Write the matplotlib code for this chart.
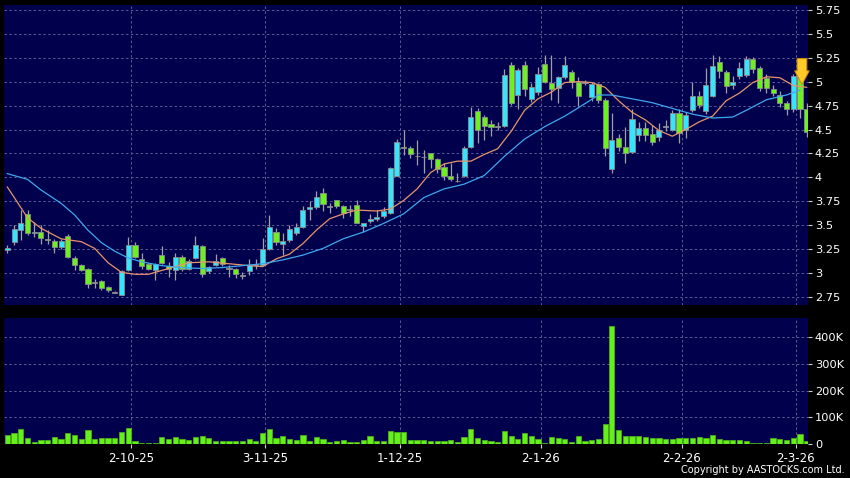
import numpy as np
import matplotlib
matplotlib.use('Agg')
import matplotlib.pyplot as plt

# daily OHLC, oldest first
opens = [3.24, 3.33, 3.45, 3.62, 3.42, 3.43, 3.36, 3.34, 3.27, 3.39,
         3.16, 3.09, 3.05, 2.90, 2.92, 2.86, 2.80, 2.77, 3.03, 3.30,
         3.15, 3.10, 3.03, 3.19, 3.08, 3.03, 3.17, 3.05, 3.16, 3.28,
         3.02, 3.09, 3.16, 3.05, 3.04, 2.97, 3.02, 3.09, 3.09, 3.25,
         3.43, 3.31, 3.35, 3.42, 3.48, 3.67, 3.69, 3.84, 3.69, 3.76,
         3.70, 3.66, 3.71, 3.49, 3.55, 3.57, 3.60, 3.63, 4.02, 4.32,
         4.31, 4.22, 4.21, 4.25, 4.19, 4.11, 4.01, 3.96, 4.01, 4.32,
         4.69, 4.63, 4.56, 4.53, 4.54, 5.17, 4.86, 5.17, 4.82, 4.89,
         5.18, 4.98, 4.93, 5.05, 5.10, 5.00, 4.99, 4.84, 4.97, 4.81,
         4.09, 4.41, 4.32, 4.27, 4.44, 4.52, 4.45, 4.42, 4.53, 4.50,
         4.67, 4.50, 4.70, 4.85, 4.69, 4.85, 5.20, 5.10, 4.96, 5.06,
         5.07, 5.24, 5.14, 5.04, 4.92, 4.86, 4.78, 4.71, 5.06, 4.71]
highs = [3.30, 3.50, 3.66, 3.66, 3.54, 3.50, 3.45, 3.36, 3.36, 3.41,
         3.18, 3.10, 3.06, 2.94, 2.93, 2.87, 2.82, 3.03, 3.38, 3.33,
         3.21, 3.11, 3.11, 3.28, 3.12, 3.21, 3.19, 3.15, 3.39, 3.30,
         3.08, 3.20, 3.17, 3.09, 3.06, 3.01, 3.15, 3.15, 3.37, 3.61,
         3.47, 3.42, 3.50, 3.53, 3.70, 3.75, 3.86, 3.89, 3.73, 3.77,
         3.71, 3.71, 3.76, 3.53, 3.62, 3.66, 3.69, 4.11, 4.40, 4.50,
         4.33, 4.39, 4.29, 4.26, 4.20, 4.15, 4.15, 4.05, 4.33, 4.73,
         4.72, 4.65, 4.60, 4.58, 5.13, 5.20, 5.14, 5.21, 4.98, 5.15,
         5.28, 5.28, 5.06, 5.27, 5.12, 5.05, 5.02, 5.00, 4.99, 4.83,
         4.67, 4.45, 4.53, 4.71, 4.58, 4.58, 4.55, 4.57, 4.60, 4.70,
         4.71, 4.68, 5.00, 4.90, 5.14, 5.28, 5.27, 5.12, 5.06, 5.20,
         5.27, 5.26, 5.16, 5.08, 4.96, 4.90, 4.80, 5.08, 5.08, 4.78]
lows = [3.21, 3.30, 3.35, 3.40, 3.38, 3.31, 3.31, 3.21, 3.25, 3.16,
        3.03, 3.02, 2.85, 2.85, 2.83, 2.81, 2.79, 2.77, 3.02, 3.16,
        3.05, 3.03, 2.93, 3.10, 2.96, 2.93, 3.02, 3.03, 3.15, 2.96,
        3.00, 3.08, 3.08, 2.96, 2.95, 2.94, 2.98, 3.05, 3.08, 3.24,
        3.30, 3.19, 3.33, 3.40, 3.47, 3.56, 3.67, 3.65, 3.63, 3.68,
        3.58, 3.60, 3.52, 3.43, 3.53, 3.55, 3.58, 3.62, 4.01, 4.23,
        4.20, 4.13, 4.05, 4.10, 4.05, 3.97, 3.96, 3.95, 4.00, 4.31,
        4.36, 4.39, 4.43, 4.49, 4.53, 4.76, 4.71, 4.85, 4.79, 4.86,
        4.98, 4.81, 4.78, 5.03, 4.93, 4.75, 4.96, 4.80, 4.78, 4.22,
        4.05, 4.28, 4.15, 4.25, 4.38, 4.38, 4.34, 4.38, 4.48, 4.48,
        4.36, 4.41, 4.68, 4.72, 4.66, 4.84, 5.04, 4.88, 4.92, 5.03,
        5.05, 5.09, 4.90, 4.88, 4.85, 4.74, 4.65, 4.68, 4.62, 4.42]
closes = [3.26, 3.46, 3.53, 3.42, 3.43, 3.37, 3.35, 3.27, 3.34, 3.17,
          3.09, 3.03, 2.89, 2.90, 2.85, 2.83, 2.80, 3.02, 3.30, 3.17,
          3.08, 3.04, 3.10, 3.11, 3.05, 3.17, 3.04, 3.13, 3.30, 2.99,
          3.07, 3.13, 3.10, 3.05, 2.99, 2.97, 3.09, 3.09, 3.25, 3.48,
          3.33, 3.34, 3.46, 3.48, 3.66, 3.69, 3.80, 3.72, 3.69, 3.70,
          3.63, 3.66, 3.53, 3.52, 3.57, 3.59, 3.65, 4.10, 4.37, 4.31,
          4.24, 4.22, 4.21, 4.19, 4.09, 4.02, 3.98, 3.96, 4.31, 4.63,
          4.50, 4.54, 4.53, 4.53, 5.07, 4.78, 5.12, 4.92, 4.94, 5.08,
          5.00, 4.92, 5.05, 5.17, 5.00, 4.85, 4.99, 4.97, 4.81, 4.31,
          4.39, 4.32, 4.26, 4.61, 4.52, 4.44, 4.37, 4.50, 4.54, 4.67,
          4.46, 4.65, 4.85, 4.76, 4.96, 5.16, 5.11, 4.95, 5.00, 5.14,
          5.24, 5.13, 4.93, 4.93, 4.88, 4.78, 4.71, 5.06, 4.71, 4.47]
volumes = [35, 42, 57, 21, 9, 14, 16, 26, 19, 41,
           35, 20, 52, 20, 24, 24, 24, 45, 61, 11,
           4, 4, 4, 26, 20, 27, 20, 16, 27, 31,
           24, 11, 11, 11, 11, 11, 19, 11, 40, 57,
           24, 30, 20, 16, 34, 12, 26, 20, 9, 12,
           16, 9, 9, 15, 30, 12, 11, 49, 46, 46,
           15, 16, 16, 10, 12, 11, 15, 7, 26, 57,
           24, 15, 10, 9, 49, 31, 20, 40, 29, 19,
           2, 27, 24, 20, 9, 30, 10, 15, 19, 74,
           442, 52, 31, 31, 31, 25, 21, 24, 19, 17,
           24, 22, 21, 27, 24, 35, 17, 16, 14, 14,
           10, 2, 4, 4, 24, 19, 16, 21, 36, 10]  # thousands

# moving averages (candle index, price)
ma_short_idx = [0, 3, 5, 8, 11, 13, 15, 17, 19, 21, 23, 25, 27, 30, 33, 36, 38, 40,
                42, 44, 46, 48, 50, 52, 55, 57, 59, 61, 63, 65, 67, 69, 71, 73, 75,
                77, 79, 81, 83, 85, 87, 89, 91, 93, 95, 97, 99, 101, 103, 105, 107,
                109, 111, 113, 115, 117, 119]
ma_short = [3.90, 3.58, 3.47, 3.36, 3.33, 3.26, 3.11, 3.01, 2.99, 2.99, 3.03, 3.07,
            3.11, 3.12, 3.10, 3.08, 3.07, 3.15, 3.20, 3.31, 3.45, 3.57, 3.62, 3.66,
            3.65, 3.67, 3.76, 3.88, 4.05, 4.14, 4.17, 4.17, 4.24, 4.30, 4.48, 4.70,
            4.82, 4.89, 4.99, 5.00, 4.99, 4.94, 4.80, 4.68, 4.60, 4.49, 4.43, 4.50,
            4.58, 4.64, 4.80, 4.88, 4.99, 5.05, 5.04, 4.96, 4.94]
ma_long_idx = [0, 3, 5, 8, 10, 12, 14, 16, 18, 20, 23, 26, 29, 32, 35, 38, 41, 44,
               47, 50, 53, 56, 59, 62, 65, 68, 71, 74, 77, 80, 83, 86, 88, 90, 93,
               96, 99, 102, 105, 108, 110, 113, 116, 118]
ma_long = [4.04, 3.98, 3.87, 3.73, 3.61, 3.45, 3.32, 3.23, 3.16, 3.12, 3.08, 3.06,
           3.05, 3.06, 3.08, 3.10, 3.14, 3.19, 3.26, 3.36, 3.43, 3.52, 3.62, 3.79,
           3.88, 3.93, 4.02, 4.22, 4.40, 4.53, 4.64, 4.77, 4.86, 4.86, 4.82, 4.78,
           4.72, 4.66, 4.62, 4.63, 4.70, 4.81, 4.86, 4.91]

tick_idx = [18, 38, 58, 79, 100, 117]
tick_labels = ['2-10-25', '3-11-25', '1-12-25', '2-1-26', '2-2-26', '2-3-26']

price_ticks = [2.75, 3, 3.25, 3.5, 3.75, 4, 4.25, 4.5, 4.75, 5, 5.25, 5.5, 5.75]
vol_ticks = [0, 100, 200, 300, 400]

BG = '#00004c'
GRID = '#5c5c94'
UP = '#33e6ff'
DOWN = '#6cf01e'
FLAT = '#a8a8a8'

o = np.array(opens)
c = np.array(closes)
h = np.array(highs)
l = np.array(lows)
x = np.arange(len(o))

fig = plt.figure(figsize=(8.5, 4.78), dpi=100, facecolor='black')
ax = fig.add_axes([0.0047, 0.362, 0.9459, 0.6278])
axv = fig.add_axes([0.0047, 0.0711, 0.9459, 0.2639])

for a in (ax, axv):
    a.set_facecolor(BG)
    for s in a.spines.values():
        s.set_visible(False)
    a.yaxis.tick_right()
    a.tick_params(axis='y', colors='#cfcfcf', labelcolor='white', labelsize=8.2,
                  length=3, width=0.8, pad=2)
    a.set_xlim(-0.5, 119.2)
    a.grid(True, color=GRID, linestyle=(0, (2.5, 2.5)), linewidth=0.7)
    a.set_axisbelow(True)
    a.set_xticks([t + 0.4 for t in tick_idx])

# candles
colors = np.where(c > o, UP, np.where(c < o, DOWN, FLAT))
ax.vlines(x, l, h, color='#a0a0a0', linewidth=0.9, zorder=2)
body_lo = np.minimum(o, c)
body_h = np.maximum(np.abs(c - o), 0.008)
ax.bar(x, body_h, bottom=body_lo, width=0.76, color=colors,
       edgecolor='#8c8c8c', linewidth=0.6, zorder=3)

# moving averages
ax.plot(ma_short_idx, ma_short, color='#e8956a', linewidth=0.9, zorder=4)
ax.plot(ma_long_idx, ma_long, color='#3fa8f0', linewidth=0.9, zorder=4)

# sell signal arrow
ax.annotate('', xy=(118.3, 4.97), xytext=(118.3, 5.24),
            arrowprops=dict(arrowstyle='simple,head_width=0.75,head_length=0.7,tail_width=0.5',
                            mutation_scale=14, fc='#ffc928', ec='#d08a00', lw=0.7,
                            shrinkA=0, shrinkB=0),
            zorder=6)

ax.set_ylim(2.67, 5.80)
ax.set_yticks(price_ticks)
ax.set_yticklabels(['2.75', '3', '3.25', '3.5', '3.75', '4', '4.25', '4.5',
                    '4.75', '5', '5.25', '5.5', '5.75'])
ax.tick_params(axis='x', length=0, labelbottom=False)

# volume
axv.bar(x, volumes, width=0.78, color='#66f01a', edgecolor='#4fb818',
        linewidth=0.5, zorder=3)
axv.set_ylim(0, 472)
axv.set_yticks(vol_ticks)
axv.set_yticklabels(['0', '100K', '200K', '300K', '400K'])
axv.tick_params(axis='x', colors='#cfcfcf', labelcolor='white', labelsize=8.5,
                length=3, width=0.8, pad=3)
axv.set_xticklabels(tick_labels)

fig.text(0.994, 0.006, 'Copyright by AASTOCKS.com Ltd.', color='white',
         fontsize=7.0, ha='right', va='bottom')

fig.savefig('out.png', dpi=100, facecolor='black')
